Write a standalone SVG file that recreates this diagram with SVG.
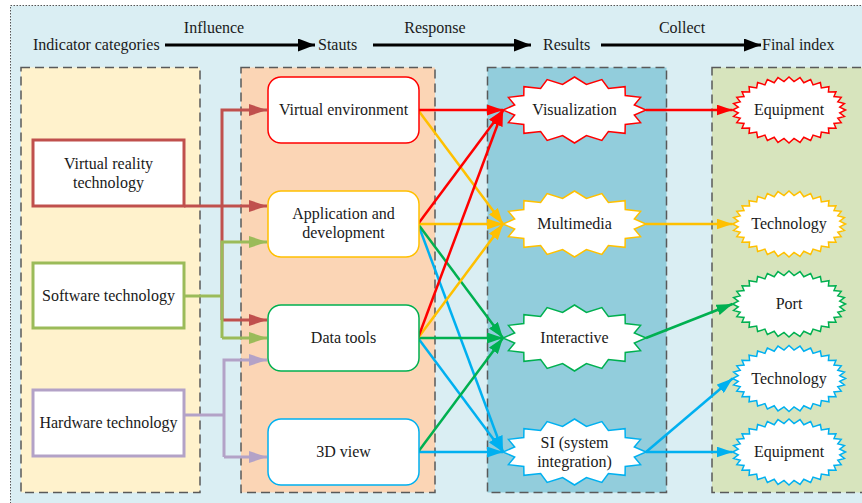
<svg xmlns="http://www.w3.org/2000/svg" xmlns:xlink="http://www.w3.org/1999/xlink" width="862" height="503" viewBox="0 0 862 503">
<style>
  .t{font-family:"Liberation Serif","Times New Roman",serif;font-size:16px;fill:#1a1a1a;text-anchor:middle}
  .ts{font-family:"Liberation Serif","Times New Roman",serif;font-size:16px;fill:#1a1a1a;text-anchor:start}
  .col{stroke:#595959;stroke-width:1.5;stroke-dasharray:9 5}
  .box{fill:#fff;stroke-width:3}
  .rbox{fill:#fff;stroke-width:1.5}
  .c{fill:none;stroke-width:3}
  .m{fill:none;stroke-width:2.5}
</style>
<defs>
  <marker id="a-black" markerWidth="18" markerHeight="13" refX="17" refY="6.5" orient="auto" markerUnits="userSpaceOnUse"><path d="M0,0 L17,6.5 L0,13 Z" fill="#000"/></marker>
  <marker id="a-brick" markerWidth="18" markerHeight="12" refX="18" refY="6" orient="auto" markerUnits="userSpaceOnUse"><path d="M0,0 L18,6 L0,12 Z" fill="#c0504d"/></marker>
  <marker id="a-olive" markerWidth="18" markerHeight="12" refX="18" refY="6" orient="auto" markerUnits="userSpaceOnUse"><path d="M0,0 L18,6 L0,12 Z" fill="#9bbb59"/></marker>
  <marker id="a-purple" markerWidth="18" markerHeight="12" refX="18" refY="6" orient="auto" markerUnits="userSpaceOnUse"><path d="M0,0 L18,6 L0,12 Z" fill="#b3a2c7"/></marker>
  <marker id="a-red" markerWidth="16" markerHeight="11" refX="16" refY="5.5" orient="auto" markerUnits="userSpaceOnUse"><path d="M0,0 L16,5.5 L0,11 Z" fill="#ff0000"/></marker>
  <marker id="a-orange" markerWidth="16" markerHeight="11" refX="16" refY="5.5" orient="auto" markerUnits="userSpaceOnUse"><path d="M0,0 L16,5.5 L0,11 Z" fill="#ffc000"/></marker>
  <marker id="a-green" markerWidth="16" markerHeight="11" refX="16" refY="5.5" orient="auto" markerUnits="userSpaceOnUse"><path d="M0,0 L16,5.5 L0,11 Z" fill="#00b050"/></marker>
  <marker id="a-blue" markerWidth="16" markerHeight="11" refX="16" refY="5.5" orient="auto" markerUnits="userSpaceOnUse"><path d="M0,0 L16,5.5 L0,11 Z" fill="#00b0f0"/></marker>
  <!-- 16-point burst used for the result nodes -->
  <path id="burst" fill="#fff" stroke-width="1.5" stroke-linejoin="miter" d="M71.5,0 L59.83,-5.07 66.06,-12.63 50.72,-14.44 50.56,-23.33 33.89,-21.62 27.36,-30.49 11.9,-25.5 0,-33 -11.9,-25.5 -27.36,-30.49 -33.89,-21.62 -50.56,-23.33 -50.72,-14.44 -66.06,-12.63 -59.83,-5.07 -71.5,0 -59.83,5.07 -66.06,12.63 -50.72,14.44 -50.56,23.33 -33.89,21.62 -27.36,30.49 -11.9,25.5 0,33 11.9,25.5 27.36,30.49 33.89,21.62 50.56,23.33 50.72,14.44 66.06,12.63 59.83,5.07 Z"/>
  <!-- 32-point zigzag ellipse used for the final index nodes -->
  <path id="zig" fill="#fff" stroke-width="1.5" d="M56.5,0 L50.75,-2.79 55.41,-6.44 48.8,-8.27 52.2,-12.63 44.98,-13.43 46.98,-18.33 39.42,-18.08 39.95,-23.33 32.35,-22.03 31.39,-27.44 24.04,-25.13 21.62,-30.49 14.8,-27.27 11.02,-32.37 5,-28.36 0,-33 -5,-28.36 -11.02,-32.37 -14.8,-27.27 -21.62,-30.49 -24.04,-25.13 -31.39,-27.44 -32.35,-22.03 -39.95,-23.33 -39.42,-18.08 -46.98,-18.33 -44.98,-13.43 -52.2,-12.63 -48.8,-8.27 -55.41,-6.44 -50.75,-2.79 -56.5,0 -50.75,2.79 -55.41,6.44 -48.8,8.27 -52.2,12.63 -44.98,13.43 -46.98,18.33 -39.42,18.08 -39.95,23.33 -32.35,22.03 -31.39,27.44 -24.04,25.13 -21.62,30.49 -14.8,27.27 -11.02,32.37 -5,28.36 0,33 5,28.36 11.02,32.37 14.8,27.27 21.62,30.49 24.04,25.13 31.39,27.44 32.35,22.03 39.95,23.33 39.42,18.08 46.98,18.33 44.98,13.43 52.2,12.63 48.8,8.27 55.41,6.44 50.75,2.79 Z"/>
</defs>

<!-- canvas -->
<rect x="0" y="0" width="862" height="503" fill="#fff"/>
<rect x="10.5" y="5.5" width="860" height="505" fill="#daeef3" stroke="#555" stroke-width="1" stroke-dasharray="1.5 1.5"/>

<!-- column panels -->
<g id="columns">
  <rect class="col" x="21" y="67.5" width="179" height="425" fill="#fff2cc"/>
  <rect class="col" x="241" y="67.5" width="194" height="425" fill="#fbd5b5"/>
  <rect class="col" x="487.5" y="67.5" width="179" height="425" fill="#92cddc"/>
  <rect class="col" x="712" y="67.5" width="160" height="425" fill="#d7e4bd"/>
</g>

<!-- header row -->
<g id="header">
  <text class="ts" x="33" y="50">Indicator categories</text>
  <text class="t" x="214" y="33">Influence</text>
  <text class="ts" x="318" y="50">Stauts</text>
  <text class="t" x="435" y="33">Response</text>
  <text class="ts" x="543" y="50">Results</text>
  <text class="t" x="682" y="33">Collect</text>
  <text class="ts" x="762" y="50">Final index</text>
  <path d="M165,45 L315,45" stroke="#000" stroke-width="3" marker-end="url(#a-black)"/>
  <path d="M373,45 L531,45" stroke="#000" stroke-width="3" marker-end="url(#a-black)"/>
  <path d="M601,45 L761,45" stroke="#000" stroke-width="3" marker-end="url(#a-black)"/>
</g>

<!-- connectors -->
<g id="connectors">
  <!-- indicator categories to states -->
  <path class="c" stroke="#c0504d" d="M222,320 V110 H267" marker-end="url(#a-brick)"/>
  <path class="c" stroke="#c0504d" d="M184,206 H267" marker-end="url(#a-brick)"/>
  <path class="c" stroke="#c0504d" d="M222,320 H267" marker-end="url(#a-brick)"/>
  <path class="c" stroke="#9bbb59" d="M184,296 H222"/>
  <path class="c" stroke="#9bbb59" d="M222,338 V242 H267" marker-end="url(#a-olive)"/>
  <path class="c" stroke="#9bbb59" d="M222,338 H267" marker-end="url(#a-olive)"/>
  <path class="c" stroke="#b3a2c7" d="M184,415 H224"/>
  <path class="c" stroke="#b3a2c7" d="M224,457 V360 H267" marker-end="url(#a-purple)"/>
  <path class="c" stroke="#b3a2c7" d="M224,457 H267" marker-end="url(#a-purple)"/>
  <!-- states to results -->
  <path class="m" stroke="#00b0f0" d="M418,224 L503,452" marker-end="url(#a-blue)"/>
  <path class="m" stroke="#00b0f0" d="M418,338 L503,452" marker-end="url(#a-blue)"/>
  <path class="m" stroke="#00b0f0" d="M418,452 L503,452" marker-end="url(#a-blue)"/>
  <path class="m" stroke="#00b050" d="M418,224 L503,338" marker-end="url(#a-green)"/>
  <path class="m" stroke="#00b050" d="M418,338 L503,338" marker-end="url(#a-green)"/>
  <path class="m" stroke="#00b050" d="M418,452 L503,338" marker-end="url(#a-green)"/>
  <path class="m" stroke="#ffc000" d="M418,110 L503,224" marker-end="url(#a-orange)"/>
  <path class="m" stroke="#ffc000" d="M418,224 L503,224" marker-end="url(#a-orange)"/>
  <path class="m" stroke="#ffc000" d="M418,338 L503,224" marker-end="url(#a-orange)"/>
  <path class="m" stroke="#ff0000" d="M418,110 L503,110" marker-end="url(#a-red)"/>
  <path class="m" stroke="#ff0000" d="M418,224 L503,110" marker-end="url(#a-red)"/>
  <path class="m" stroke="#ff0000" d="M418,338 L503,110" marker-end="url(#a-red)"/>
  <!-- results to final index -->
  <path class="m" stroke="#ff0000" d="M646,110 L732.5,110" marker-end="url(#a-red)"/>
  <path class="m" stroke="#ffc000" d="M646,224 L732.5,224" marker-end="url(#a-orange)"/>
  <path class="m" stroke="#00b050" d="M646,338 L732.5,304" marker-end="url(#a-green)"/>
  <path class="m" stroke="#00b0f0" d="M646,452 L732.5,378.5" marker-end="url(#a-blue)"/>
  <path class="m" stroke="#00b0f0" d="M646,452 L732.5,452" marker-end="url(#a-blue)"/>
</g>

<!-- indicator categories -->
<g id="vr-tech">
  <rect class="box" x="33" y="140" width="151" height="66" stroke="#c0504d"/>
  <text class="t" x="108.5" y="169">Virtual reality</text>
  <text class="t" x="108.5" y="188">technology</text>
</g>
<g id="sw-tech">
  <rect class="box" x="33" y="263" width="151" height="65" stroke="#9bbb59"/>
  <text class="t" x="108.5" y="301">Software technology</text>
</g>
<g id="hw-tech">
  <rect class="box" x="33" y="390" width="151" height="66" stroke="#b3a2c7"/>
  <text class="t" x="108.5" y="428">Hardware technology</text>
</g>

<!-- states -->
<g id="virtual-env">
  <rect class="rbox" x="268" y="77" width="151" height="66" rx="13" stroke="#ff0000"/>
  <text class="t" x="343.5" y="115">Virtual environment</text>
</g>
<g id="app-dev">
  <rect class="rbox" x="268" y="191" width="151" height="66" rx="13" stroke="#ffc000"/>
  <text class="t" x="343.5" y="219">Application and</text>
  <text class="t" x="343.5" y="238">development</text>
</g>
<g id="data-tools">
  <rect class="rbox" x="268" y="305" width="151" height="66" rx="13" stroke="#00b050"/>
  <text class="t" x="343.5" y="343">Data tools</text>
</g>
<g id="view-3d">
  <rect class="rbox" x="268" y="419" width="151" height="66" rx="13" stroke="#00b0f0"/>
  <text class="t" x="343.5" y="457">3D view</text>
</g>

<!-- results -->
<g id="visualization">
  <use href="#burst" x="574.5" y="110" stroke="#ff0000"/>
  <text class="t" x="574.5" y="115">Visualization</text>
</g>
<g id="multimedia">
  <use href="#burst" x="574.5" y="224" stroke="#ffc000"/>
  <text class="t" x="574.5" y="229">Multimedia</text>
</g>
<g id="interactive">
  <use href="#burst" x="574.5" y="338" stroke="#00b050"/>
  <text class="t" x="574.5" y="343">Interactive</text>
</g>
<g id="system-integration">
  <use href="#burst" x="574.5" y="452" stroke="#00b0f0"/>
  <text class="t" x="574.5" y="448">SI (system</text>
  <text class="t" x="574.5" y="467">integration)</text>
</g>

<!-- final index -->
<g id="equipment-red">
  <use href="#zig" x="789" y="110" stroke="#ff0000"/>
  <text class="t" x="789" y="115">Equipment</text>
</g>
<g id="technology-orange">
  <use href="#zig" x="789" y="224" stroke="#ffc000"/>
  <text class="t" x="789" y="229">Technology</text>
</g>
<g id="port">
  <use href="#zig" x="789" y="304" stroke="#00b050"/>
  <text class="t" x="789" y="309">Port</text>
</g>
<g id="technology-blue">
  <use href="#zig" x="789" y="378.5" stroke="#00b0f0"/>
  <text class="t" x="789" y="383.5">Technology</text>
</g>
<g id="equipment-blue">
  <use href="#zig" x="789" y="452" stroke="#00b0f0"/>
  <text class="t" x="789" y="457">Equipment</text>
</g>
</svg>
